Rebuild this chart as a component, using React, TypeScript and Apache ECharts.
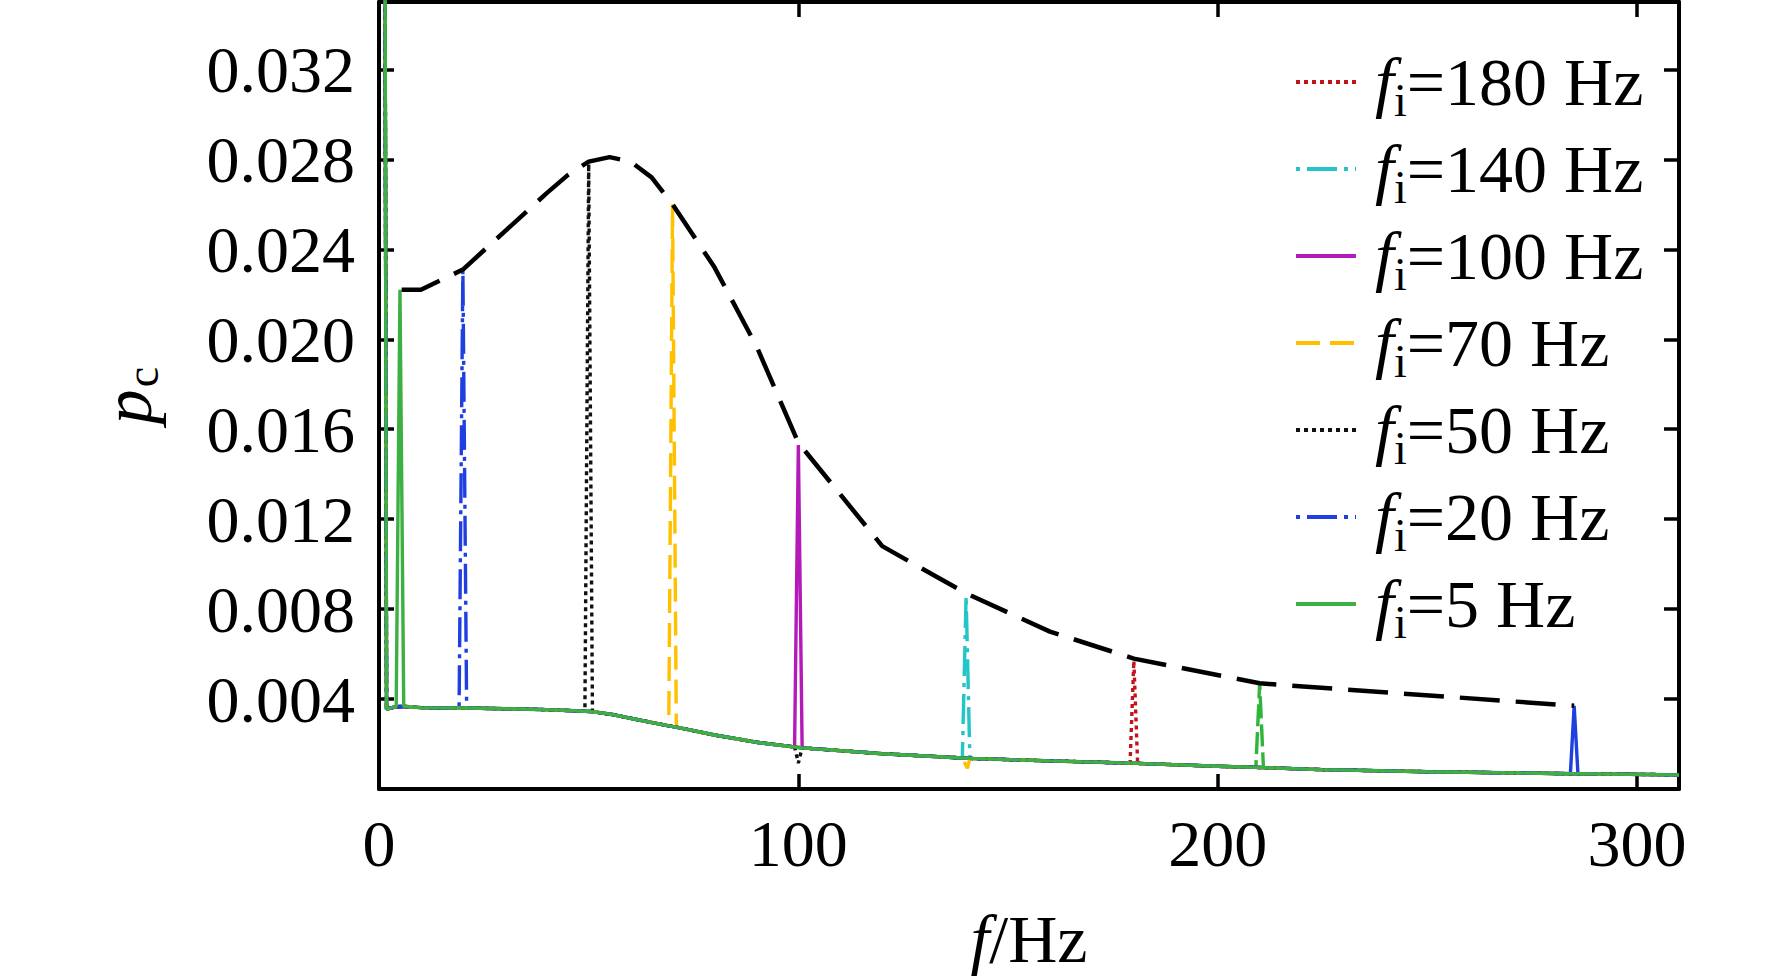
import React, { useEffect, useRef } from 'react';
import * as echarts from 'echarts';

const FONT = '"Liberation Serif", "Times New Roman", serif';

// Spike series shown in the legend (top to bottom)
const spikeFreqs = [180, 140, 100, 70, 50, 20, 5];
const spikeLabels = ['180 Hz', '140 Hz', '100 Hz', '70 Hz', '50 Hz', '20 Hz', '5 Hz'];
const spikePeaks = [0.0057, 0.0086, 0.0153, 0.026, 0.0278, 0.0231, 0.0222];
const spikeColors = ['#c0141c', '#22c5c8', '#b41ab8', '#ffc000', '#111111', '#1f3fe0', '#3cb043'];
const spikeDash: any[] = [[4, 4], [4, 7, 30, 7], 'solid', [24, 10], [4, 4], [4, 7, 30, 7], 'solid'];

// Extra spikes not listed in the legend
const extraFreqs = [210, 285];
const extraPeaks = [0.0047, 0.0037];
const extraColors = ['#2fb53a', '#1f3fe0'];
const extraDash: any[] = [[22, 6], 'solid'];

// Small dips in some series
const dipOwner = [50, 70];
const dipF = [100, 140.3];
const dipV = [0.00115, 0.00092];

// Common base curve (first point is the off-scale spike near f = 0)
const baseF = [1.2, 1.8, 4.1, 5.9, 10, 19.1, 20.9, 30, 40, 49.1, 50.9, 56, 62, 69.1, 70.9, 80, 90, 99.1, 100.9, 120, 139.1, 140.9, 160, 179.1, 180.9, 200, 209.1, 210.9, 225, 250, 284.1, 285.9, 310];
const baseV = [0.06, 0.00355, 0.00366, 0.00367, 0.00362, 0.0036, 0.0036, 0.00357, 0.00353, 0.00346, 0.00344, 0.0033, 0.00307, 0.00281, 0.00275, 0.0024, 0.00208, 0.00187, 0.00183, 0.00157, 0.00138, 0.00136, 0.00125, 0.00115, 0.00114, 0.00101, 0.00096, 0.00095, 0.00086, 0.00077, 0.00068, 0.00068, 0.00063];

// Envelope (black dashed)
const envF = [5.4, 10, 20, 30, 40, 45, 50, 55, 60, 65, 70, 80, 90, 100, 120, 140, 160, 180, 210, 285];
const envV = [0.0222, 0.0222, 0.0231, 0.0248, 0.0265, 0.0273, 0.0279, 0.0281, 0.0279, 0.0272, 0.026, 0.0232, 0.0197, 0.0154, 0.0108, 0.0087, 0.007, 0.0058, 0.0047, 0.0037];

const xTicks = [0, 100, 200, 300];

function insertPoint(pts: number[][], p: number[]) {
  let idx = pts.findIndex((q) => q[0] > p[0]);
  if (idx < 0) idx = pts.length;
  pts.splice(idx, 0, p);
}

function buildSeriesData(fi: number, peak: number) {
  const pts = baseF.map((f, i) => [f, baseV[i]]);
  insertPoint(pts, [fi, peak]);
  dipOwner.forEach((o, k) => {
    if (o === fi) insertPoint(pts, [dipF[k], dipV[k]]);
  });
  return pts;
}

const nameOf = (label: string) => 'fi=' + label;

export default function App() {
  const ref = useRef<HTMLDivElement>(null);
  useEffect(() => {
    if (!ref.current) return;
    const chart = echarts.init(ref.current, undefined, { renderer: 'svg' });

    const axisCommon = {
      axisLine: { show: true, onZero: false, lineStyle: { color: '#000', width: 4 } },
      axisTick: { show: true, inside: true, length: 15, lineStyle: { color: '#000', width: 3.5 } },
      splitLine: { show: false },
    };

    const series: any[] = [];
    extraFreqs.forEach((fi, k) => {
      series.push({
        name: 'extra' + fi,
        type: 'line',
        data: buildSeriesData(fi, extraPeaks[k]),
        symbol: 'none',
        lineStyle: { color: extraColors[k], width: 3.4, type: extraDash[k] },
        itemStyle: { color: extraColors[k] },
        z: 2,
      });
    });
    spikeFreqs.forEach((fi, k) => {
      series.push({
        name: nameOf(spikeLabels[k]),
        type: 'line',
        data: buildSeriesData(fi, spikePeaks[k]),
        symbol: 'none',
        lineStyle: { color: spikeColors[k], width: 3.4, type: spikeDash[k] },
        itemStyle: { color: spikeColors[k] },
        z: 2,
      });
    });
    series.push({
      name: 'envelope',
      type: 'line',
      data: envF.map((f, i) => [f, envV[i]]),
      symbol: 'none',
      lineStyle: { color: '#000', width: 4.5, type: [40, 16] },
      itemStyle: { color: '#000' },
      z: 3,
    });

    const option: any = {
      animation: false,
      backgroundColor: '#fff',
      grid: { left: 379, right: 93, top: 2, bottom: 189, containLabel: false },
      xAxis: [
        {
          type: 'value', min: 0, max: 310, interval: 100, position: 'bottom',
          ...axisCommon,
          axisLabel: {
            show: true, color: '#000', fontFamily: FONT, fontSize: 66, lineHeight: 66, margin: 21,
            formatter: (v: number) => (xTicks.includes(Math.round(v)) && Math.abs(v - Math.round(v)) < 1e-6 ? String(Math.round(v)) : ''),
          },
          name: '{i|f}{r|/Hz}',
          nameLocation: 'middle',
          nameGap: 114,
          nameTextStyle: {
            color: '#000', fontFamily: FONT, fontSize: 66, lineHeight: 72,
            rich: {
              i: { fontFamily: FONT, fontSize: 68, fontStyle: 'italic', lineHeight: 72, color: '#000' },
              r: { fontFamily: FONT, fontSize: 68, lineHeight: 72, color: '#000' },
            },
          },
        },
        {
          type: 'value', min: 0, max: 310, interval: 100, position: 'top',
          ...axisCommon,
          axisLabel: { show: false },
        },
      ],
      yAxis: [
        {
          type: 'value', min: 0, max: 0.035, interval: 0.004, position: 'left',
          ...axisCommon,
          axisLabel: {
            show: true, color: '#000', fontFamily: FONT, fontSize: 66, margin: 24,
            formatter: (v: number) => (v < 1e-9 || v > 0.0345 ? '' : v.toFixed(3)),
          },
          name: '{p|p}{c|c}',
          nameLocation: 'middle',
          nameGap: 216,
          nameTextStyle: {
            color: '#000', fontFamily: FONT, fontSize: 66, lineHeight: 72,
            rich: {
              p: { fontFamily: FONT, fontSize: 70, fontStyle: 'italic', lineHeight: 72, color: '#000' },
              c: { fontFamily: FONT, fontSize: 46, lineHeight: 72, padding: [30, 0, 0, 2], color: '#000' },
            },
          },
        },
        {
          type: 'value', min: 0, max: 0.035, interval: 0.004, position: 'right',
          ...axisCommon,
          axisLabel: { show: false },
        },
      ],
      legend: {
        data: spikeLabels.map(nameOf),
        orient: 'vertical',
        left: 1289,
        top: 36,
        itemWidth: 60,
        itemHeight: 14,
        itemGap: 5,
        selectedMode: false,
        itemStyle: { opacity: 0, borderWidth: 0 },
        lineStyle: { width: 4 },
        textStyle: {
          color: '#000', fontFamily: FONT, fontSize: 68, lineHeight: 72,
          rich: {
            f: { fontFamily: FONT, fontSize: 68, fontStyle: 'italic', lineHeight: 72, color: '#000', padding: [0, 0, 0, 14] },
            s: { fontFamily: FONT, fontSize: 46, lineHeight: 72, color: '#000', padding: [36, 0, 0, 0] },
            t: { fontFamily: FONT, fontSize: 68, lineHeight: 72, color: '#000' },
          },
        },
        formatter: (name: string) => '{f|f}{s|i}{t|=' + name.slice(3) + '}',
      },
      series,
    };

    chart.setOption(option);
    return () => chart.dispose();
  }, []);

  return (
    <div
      ref={ref}
      style={{ position: 'fixed', left: 0, top: 0, width: 1772, height: 980, background: '#fff' }}
    />
  );
}
